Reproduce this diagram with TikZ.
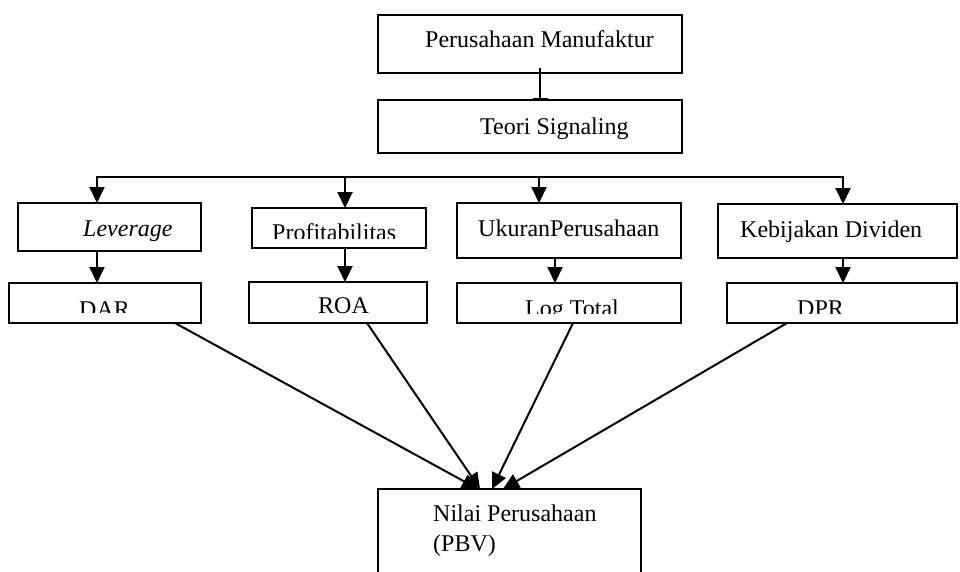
\documentclass[tikz,border=0pt]{standalone}
\usepackage{fontspec}
\setmainfont{Liberation Serif}
\usetikzlibrary{arrows.meta}
\tikzset{
  box/.style={draw, rectangle, line width=2pt, inner sep=0pt, outer sep=0pt},
  lbl/.style={anchor=base west, inner sep=0pt},
  link/.style={line width=2pt, -{Triangle[length=16pt,width=15pt]}}
}
\begin{document}
\begin{tikzpicture}[x=1pt, y=-1pt, font=\fontsize{24}{30}\selectfont]
    \useasboundingbox (0,0) rectangle (960,572);

    \node[box, minimum width=304pt, minimum height=58pt] (pm) at (530,44) {};
    \node[box, minimum width=304pt, minimum height=53pt] (ts) at (530,126.5) {};
    \node[box, minimum width=183pt, minimum height=48pt] (lev) at (109.5,227) {};
    \node[box, minimum width=174pt, minimum height=40pt] (prof) at (339,228) {};
    \node[box, minimum width=224pt, minimum height=55pt] (uk) at (569,230.5) {};
    \node[box, minimum width=239pt, minimum height=54pt] (keb) at (837.5,231) {};
    \node[box, minimum width=192pt, minimum height=40pt] (dar) at (105,303) {};
    \node[box, minimum width=178pt, minimum height=41pt] (roa) at (338,302.5) {};
    \node[box, minimum width=224pt, minimum height=40pt] (lt) at (569,303) {};
    \node[box, minimum width=230pt, minimum height=40pt] (dpr) at (842,303) {};
    \node[box, minimum width=263pt, minimum height=120pt] (pbv) at (509.5,549) {};

    \node[lbl] (tpm) at (425,48) {Perusahaan Manufaktur};
    \node[lbl] (tts) at (480,135) {Teori Signaling};
    \node[lbl] (tlev) at (83,236) {\itshape Leverage};
    \node[lbl] (tuk) at (478,236) {UkuranPerusahaan};
    \node[lbl] (tkeb) at (740,237) {Kebijakan Dividen};
    \node[lbl] (troa) at (318,313) {ROA};
    \node[lbl, align=left] (tpbv) at (433,551) {Nilai Perusahaan\\(PBV)};
    \begin{scope}
        \clip (252,208) rectangle (426,238.5);
        \node[lbl] (tprof) at (272,240) {Profitabilitas};
    \end{scope}
    \begin{scope}
        \clip (9,283) rectangle (201,312.5);
        \node[lbl] (tdar) at (79,317) {DAR};
    \end{scope}
    \begin{scope}
        \clip (457,283) rectangle (681,313);
        \node[lbl] (tlt) at (525,316) {Log Total};
    \end{scope}
    \begin{scope}
        \clip (727,283) rectangle (957,313);
        \node[lbl] (tdpr) at (797,316) {DPR};
    \end{scope}

    \draw[line width=2pt, -{Bar[width=15pt]}] ([xshift=10pt,yshift=5pt]pm.south) -- ([xshift=10pt]ts.north);

    \coordinate (b1) at (97,177);
    \coordinate (b2) at (345,177);
    \coordinate (b3) at (539,177);
    \coordinate (b4) at (843,177);
    \draw[link, {Triangle[length=16pt,width=15pt]}-{Triangle[length=16pt,width=15pt]}] (lev.north -| b1) -- (b1) -- (b4) -- (keb.north -| b4);
    \draw[link] (b2) -- (b2 |- prof.north);
    \draw[link] (b3) -- (b3 |- uk.north);

    \draw[link] (lev.south -| b1) -- (dar.north -| b1);
    \draw[link] (prof.south -| b2) -- (roa.north -| b2);
    \draw[link] ([xshift=-14pt]uk.south) -- ([xshift=-14pt]lt.north);
    \draw[link] (keb.south -| b4) -- (dpr.north -| b4);

    \draw[link] ([xshift=70pt]dar.south) -- ([xshift=-31.5pt]pbv.north);
    \draw[link] ([xshift=29pt]roa.south) -- ([xshift=-29.5pt]pbv.north);
    \draw[link] ([xshift=4pt]lt.south) -- ([xshift=-17.5pt]pbv.north);
    \draw[link] ([xshift=-55pt]dpr.south) -- ([xshift=-6.5pt]pbv.north);
\end{tikzpicture}
\end{document}
